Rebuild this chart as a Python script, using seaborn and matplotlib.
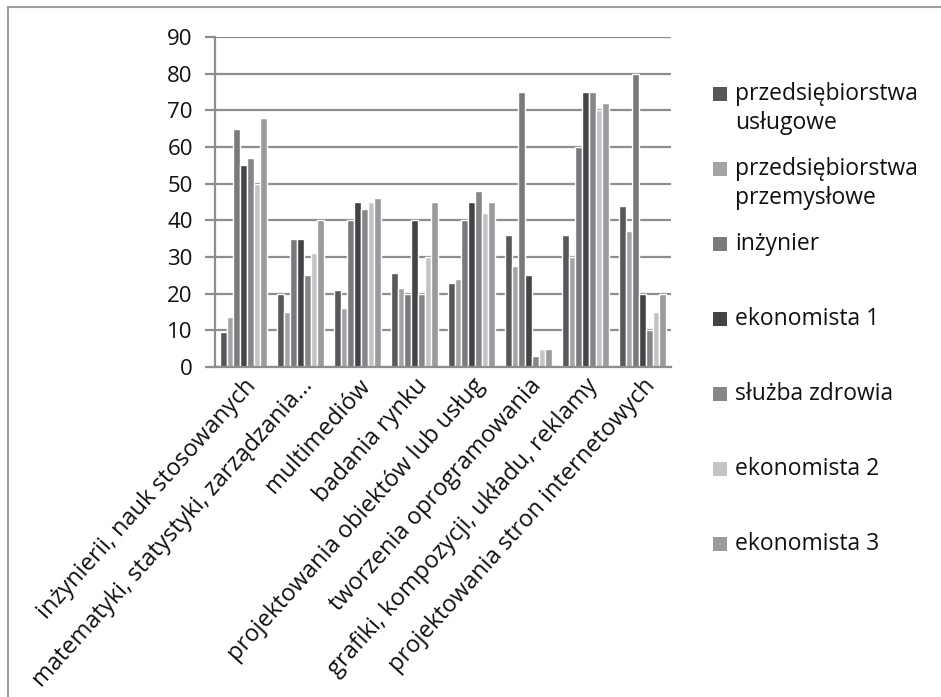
import matplotlib
matplotlib.use("Agg")
import matplotlib.pyplot as plt
from matplotlib.patches import Rectangle
import seaborn as sns
import pandas as pd

# Kategorie umiejętności (oś X)
categories = [
    "inżynierii, nauk stosowanych",
    "matematyki, statystyki, zarządzania...",
    "multimediów",
    "badania rynku",
    "projektowania obiektów lub usług",
    "tworzenia oprogramowania",
    "grafiki, kompozycji, układu, reklamy",
    "projektowania stron internetowych",
]

# Serie danych
series_names = [
    "przedsiębiorstwa usługowe",
    "przedsiębiorstwa przemysłowe",
    "inżynier",
    "ekonomista 1",
    "służba zdrowia",
    "ekonomista 2",
    "ekonomista 3",
]
legend_labels = [
    "przedsiębiorstwa\nusługowe",
    "przedsiębiorstwa\nprzemysłowe",
    "inżynier",
    "ekonomista 1",
    "służba zdrowia",
    "ekonomista 2",
    "ekonomista 3",
]

uslugowe     = [9.5, 20, 21, 25.5, 23, 36, 36, 44]
przemyslowe  = [13.5, 15, 16, 21.5, 24, 27.5, 30, 37]
inzynier     = [65, 35, 40, 20, 40, 75, 60, 80]
ekonomista_1 = [55, 35, 45, 40, 45, 25, 75, 20]
sluzba_zdr   = [57, 25, 43, 20, 48, 3, 75, 10]
ekonomista_2 = [50, 31, 45, 30, 42, 5, 70, 15]
ekonomista_3 = [68, 40, 46, 45, 45, 5, 72, 20]

yticks = [0, 10, 20, 30, 40, 50, 60, 70, 80, 90]

colors = ["#58585c", "#a4a4a7", "#7a7a7e", "#444447",
          "#85858a", "#c4c4c6", "#9b9b9f"]

all_values = [uslugowe, przemyslowe, inzynier, ekonomista_1,
              sluzba_zdr, ekonomista_2, ekonomista_3]

rows = []
for name, vals in zip(series_names, all_values):
    for cat, v in zip(categories, vals):
        rows.append({"kategoria": cat, "seria": name, "wartosc": v})
df = pd.DataFrame(rows)

sns.set_theme(style="white")
plt.rcParams["font.family"] = ["Open Sans", "DejaVu Sans"]
text_color = "#111111"
grid_color = "#8e8e8e"

W, H = 941, 697
fig = plt.figure(figsize=(W / 100, H / 100), dpi=100)
fig.patch.set_facecolor("white")

ax = fig.add_axes([215 / W, 1 - 367 / H, (671 - 215) / W, (367 - 37) / H])

sns.barplot(data=df, x="kategoria", y="wartosc", hue="seria",
            order=categories, hue_order=series_names, palette=colors,
            width=0.82, saturation=1, legend=False, ax=ax, errorbar=None)

ax.set_ylim(0, 90)
ax.set_xlim(-0.5, len(categories) - 0.5)
ax.set_yticks(yticks)
ax.set_yticklabels([str(t) for t in yticks], fontsize=16, color=text_color)
ax.set_xlabel("")
ax.set_ylabel("")

# Linie siatki poziomej
ax.set_axisbelow(True)
ax.yaxis.grid(True, color=grid_color, linewidth=1.6)
ax.xaxis.grid(False)

for side in ["top", "right"]:
    ax.spines[side].set_visible(False)
for side in ["left", "bottom"]:
    ax.spines[side].set_color(grid_color)
    ax.spines[side].set_linewidth(1.6)

# Podziałki osi X na granicach kategorii
ax.set_xticks([i - 0.5 for i in range(len(categories) + 1)], minor=False)
ax.set_xticklabels([])
ax.tick_params(axis="x", which="major", length=7, width=1.6, color=grid_color,
               direction="out")
ax.set_xticks(range(len(categories)), minor=True)
ax.set_xticklabels(categories, minor=True, rotation=48, ha="right",
                   rotation_mode="anchor", fontsize=17, color=text_color)
ax.tick_params(axis="x", which="minor", length=0, pad=5)
ax.tick_params(axis="y", length=7, width=1.6, color=grid_color,
               direction="out", pad=9, left=True)

# Legenda
leg_y = [93, 168, 243, 318, 393, 468, 543]
for lab, col, y in zip(legend_labels, colors, leg_y):
    fig.add_artist(Rectangle((713 / W, 1 - (y + 8) / H), 14 / W, 14 / H,
                             transform=fig.transFigure, facecolor=col,
                             edgecolor="none"))
    fig.text(735 / W, 1 - (y - 11) / H, lab, fontsize=16.5, color=text_color,
             va="top", ha="left", linespacing=1.3)

# Ramka wykresu
fig.add_artist(Rectangle((8 / W, -0.05), 1.1, 1 - 7 / H + 0.05,
                         transform=fig.transFigure, facecolor="none",
                         edgecolor="#a0a0a0", linewidth=1.5))

fig.savefig("out.png", dpi=100, facecolor="white")
